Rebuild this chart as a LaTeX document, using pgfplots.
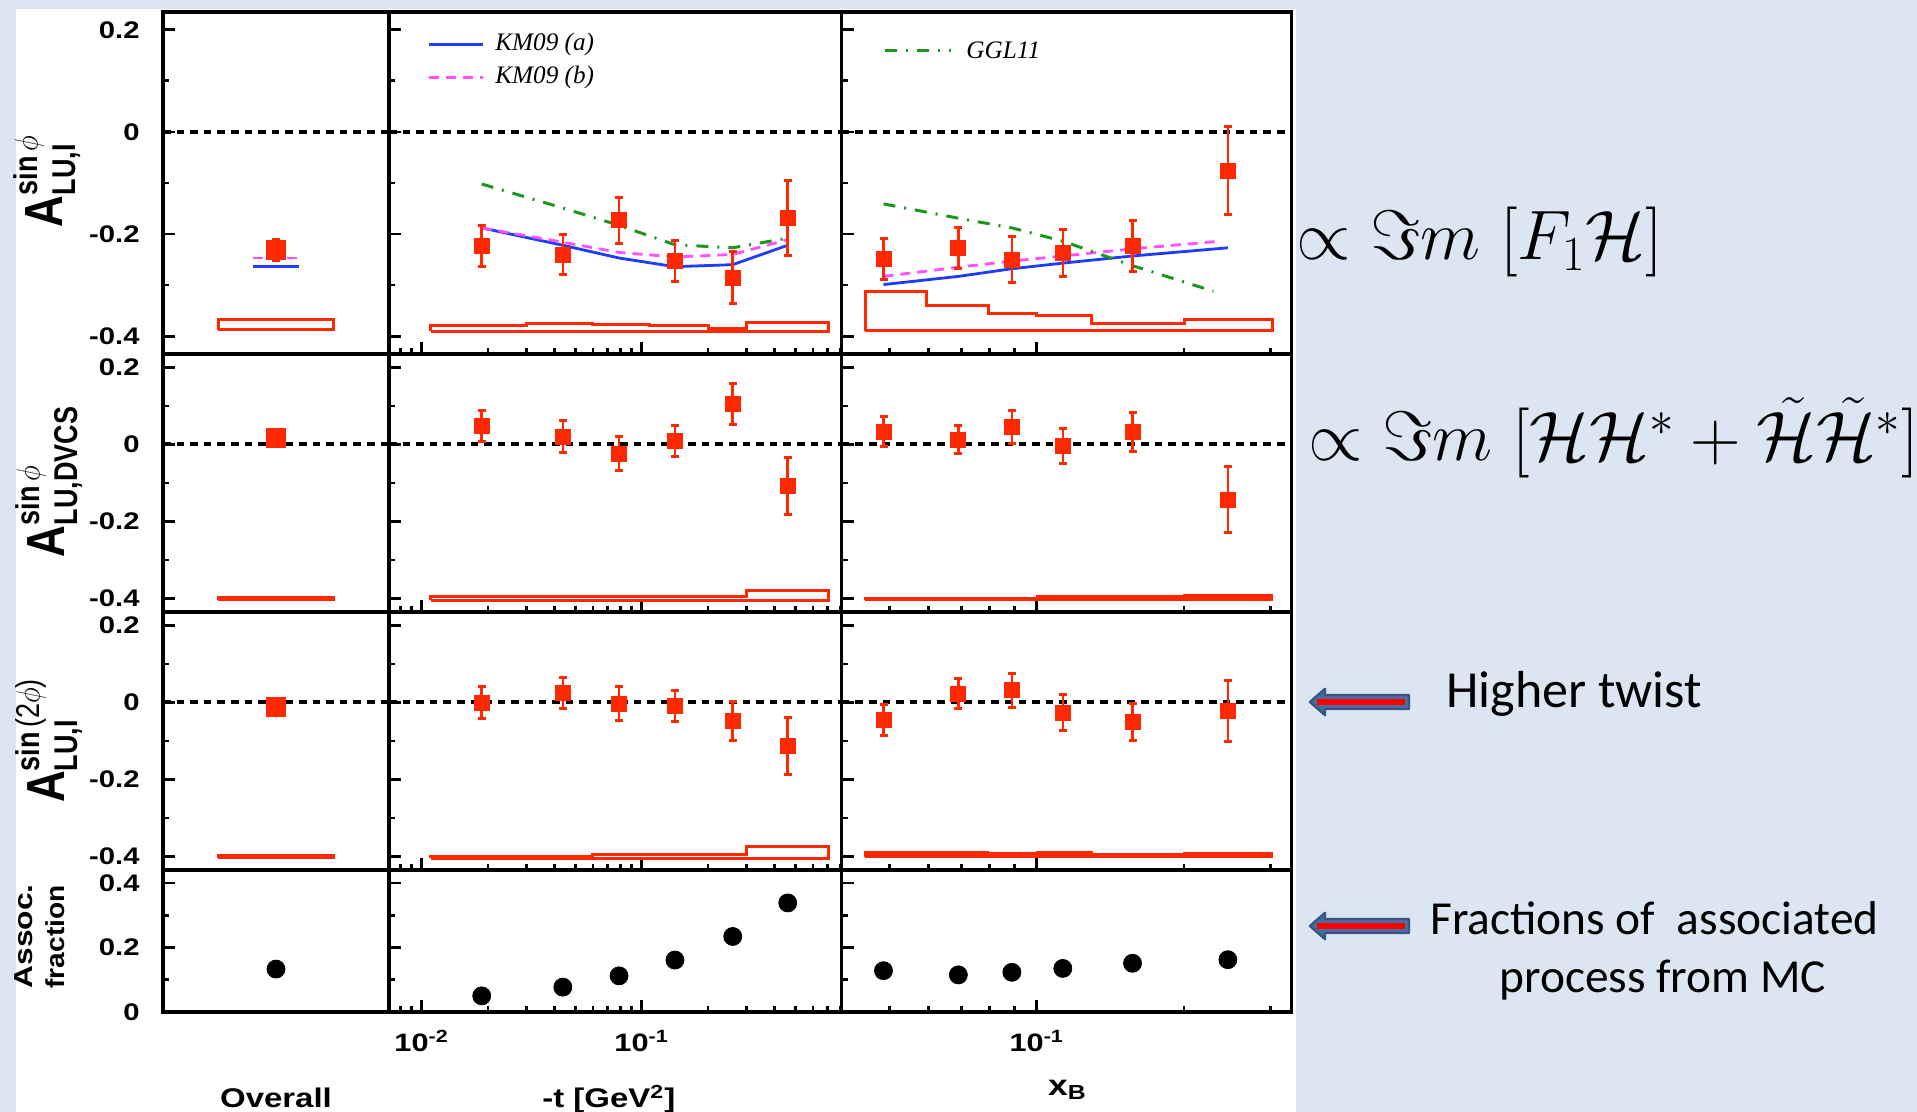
\RequirePackage{fix-cm}
\documentclass[border=0pt]{standalone}
\usepackage{amsmath}
\usepackage{graphicx}
\usepackage[no-math]{fontspec}
\setmainfont{Liberation Sans}
\newfontfamily\serif{Liberation Serif}
\newfontfamily\calfont{Carlito}
\usepackage{pgfplots}
\pgfplotsset{compat=1.18}
\definecolor{bgblue}{RGB}{220,230,242}
\definecolor{dred}{RGB}{255,40,0}
\definecolor{kmblue}{RGB}{30,60,255}
\definecolor{kmmag}{RGB}{255,80,255}
\definecolor{ggreen}{RGB}{30,150,30}
\definecolor{arrowblue}{RGB}{75,110,160}
\definecolor{arrowedge}{RGB}{55,85,135}
\newcommand{\tl}[1]{\scalebox{1.22}[1]{\bfseries\fontsize{12}{14}\selectfont #1}}
\newcommand{\xt}[1]{\scalebox{1.22}[1]{\bfseries\fontsize{12.6}{14}\selectfont 10\textsuperscript{#1}}}
\newcommand{\xl}[1]{\scalebox{1.22}[1]{\bfseries\fontsize{13.5}{16}\selectfont #1}}
\newcommand{\legtxt}[1]{{\serif\itshape\fontsize{12.6}{14}\selectfont #1}}
\newcommand{\Alab}[2]{\scalebox{1}[1.22]{\bfseries\fontsize{22}{24}\selectfont A\fontsize{13.5}{15}\selectfont\sbox0{#1}\sbox2{#2}\rlap{\raisebox{10.2pt}{\usebox0}}\raisebox{-5.3pt}{\usebox2}\ifdim\wd0>\wd2\hspace{\dimexpr\wd0-\wd2\relax}\fi}}
\pgfplotsset{
 panel/.style={scale only axis, anchor=south west,
   axis line style={line width=1.6pt},
   major tick style={black, line width=1.4pt},
   minor tick style={black, line width=1.4pt},
   major tick length=6pt, minor tick length=3pt,
   tick align=inside, xtick pos=left, ytick pos=left,
   yticklabel style={anchor=east, inner sep=0pt, xshift=-11.5pt},
   xticklabel style={anchor=north, inner sep=0pt, yshift=-9pt},
 },
 asym/.style={ymin=-0.435, ymax=0.235, ytick={-0.4,-0.2,0,0.2}, minor ytick={-0.3,-0.1,0.1}},
 fracy/.style={ymin=0, ymax=0.44, ytick={0,0.2,0.4}, minor ytick={0.1,0.3}},
 colA/.style={panel, width=113pt, xmin=0, xmax=1, xtick=\empty},
 colB/.style={panel, width=226.35pt, xmin=0.0071, xmax=0.811, xtick={0.01,0.1},
   minor xtick={0.008,0.009,0.02,0.03,0.04,0.05,0.06,0.07,0.08,0.09,0.2,0.3,0.4,0.5,0.6,0.7,0.8},
   yticklabels={}, xticklabels={}},
 colC/.style={panel, width=225pt, xmin=0.0399, xmax=0.332, xtick={0.1},
   minor xtick={0.05,0.06,0.07,0.08,0.09,0.2,0.3}, yticklabels={}, xticklabels={}},
 rowA/.style={height=171pt, asym},
 rowB/.style={height=129pt, asym},
 rowC/.style={height=129pt, asym},
 rowD/.style={height=71pt, fracy},
 datapt/.style={only marks, mark=square*, color=dred, mark size=#1,
   error bars/y dir=both, error bars/y explicit,
   error bars/error bar style={line width=1.3pt, dred},
   error bars/error mark options={rotate=90, line width=1.5pt, mark size=2pt, dred}},
 datapt/.default=3.75pt,
 fracpt/.style={only marks, mark=*, black, mark size=4.5pt},
 zeroline/.style={black, line width=2pt, dash pattern=on 3.8pt off 3pt},
 sysbox/.style={dred, line width=1.5pt, line join=miter},
 sysfill/.style={dred, fill=dred, line width=1.0pt, line join=miter},
 kma/.style={kmblue, line width=1.4pt},
 kmb/.style={kmmag, line width=1.4pt, dash pattern=on 5pt off 3.5pt},
 ggl/.style={ggreen, line width=1.5pt, dash pattern=on 6pt off 4.5pt on 1pt off 4.5pt},
}
\begin{document}
\begin{tikzpicture}
\fill[bgblue] (0,0) rectangle (958.5pt,556pt);
\fill[white] (8pt,0) rectangle (648pt,551.5pt);

% ---------------- Row 1 ----------------
\begin{axis}[colA, rowA, at={(81.5pt,379pt)},
  yticklabels={\tl{-0.4},\tl{-0.2},\tl{0},\tl{0.2}},
  ylabel={\Alab{sin\,$\phi$}{LU,I}},
  ylabel style={at={(axis description cs:-0.513,0.504)}, anchor=center}]
\addplot[zeroline] coordinates {(0,0) (1,0)};
\addplot[kma] coordinates {(0.398,-0.263) (0.602,-0.263)};
\addplot[kmb] coordinates {(0.398,-0.247) (0.602,-0.247)};
\addplot[sysbox] coordinates {(0.245,-0.388) (0.245,-0.367) (0.755,-0.367) (0.755,-0.388) (0.245,-0.388)};
\addplot[datapt=4.75pt] coordinates {(0.5,-0.231) +- (0,0.02)};
\end{axis}

\begin{semilogxaxis}[colB, rowA, at={(194.5pt,379pt)}]
\addplot[zeroline] coordinates {(0.0071,0) (0.811,0)};
\addplot[ggl] coordinates {(0.01874,-0.102) (0.0438,-0.149) (0.0789,-0.183) (0.1416,-0.221) (0.2593,-0.227) (0.4611,-0.208)};
\addplot[kma] coordinates {(0.01874,-0.188) (0.0438,-0.222) (0.0789,-0.247) (0.1416,-0.264) (0.2593,-0.260) (0.4611,-0.222)};
\addplot[kmb] coordinates {(0.01874,-0.188) (0.0438,-0.216) (0.0789,-0.236) (0.1416,-0.245) (0.2593,-0.240) (0.4611,-0.211)};
% legend samples
\addplot[kma] coordinates {(0.01079,0.1714) (0.0190,0.1714)};
\addplot[kmb] coordinates {(0.01079,0.1061) (0.0190,0.1061)};
\node[anchor=west, inner sep=0pt] at (axis cs:0.02154,0.1714) {\legtxt{KM09 (a)}};
\node[anchor=west, inner sep=0pt] at (axis cs:0.02154,0.1061) {\legtxt{KM09 (b)}};
\addplot[sysbox] coordinates {(0.011,-0.390) (0.011,-0.380) (0.030,-0.380) (0.030,-0.375) (0.0597,-0.375) (0.0597,-0.377) (0.109,-0.377) (0.109,-0.380) (0.201,-0.380) (0.201,-0.386) (0.30,-0.386) (0.30,-0.373) (0.71,-0.373) (0.71,-0.390) (0.011,-0.390)};
\addplot[datapt] table[x=x, y=y, y error=e] {
x y e
0.01874 -0.224 0.040
0.0438 -0.240 0.040
0.0789 -0.173 0.045
0.1416 -0.253 0.040
0.2593 -0.286 0.051
0.4611 -0.169 0.073
};
\end{semilogxaxis}

\begin{semilogxaxis}[colC, rowA, at={(420.85pt,379pt)}]
\addplot[zeroline] coordinates {(0.0399,0) (0.332,0)};
\addplot[kma] coordinates {(0.04857,-0.299) (0.0691,-0.283) (0.0889,-0.268) (0.1130,-0.257) (0.1569,-0.243) (0.2458,-0.227)};
\addplot[kmb] coordinates {(0.04857,-0.283) (0.0691,-0.265) (0.0889,-0.253) (0.1130,-0.243) (0.1569,-0.229) (0.237,-0.214)};
\addplot[ggl] coordinates {(0.04857,-0.141) (0.0691,-0.169) (0.0889,-0.188) (0.1130,-0.214) (0.1569,-0.262) (0.2296,-0.312)};
% legend sample
\addplot[ggl] coordinates {(0.04895,0.1603) (0.06669,0.1603)};
\node[anchor=west, inner sep=0pt] at (axis cs:0.07166,0.1603) {\legtxt{GGL11}};
\addplot[sysbox] coordinates {(0.0446,-0.389) (0.0446,-0.312) (0.0596,-0.312) (0.0596,-0.340) (0.0796,-0.340) (0.0796,-0.356) (0.1,-0.356) (0.1,-0.360) (0.1296,-0.360) (0.1296,-0.375) (0.20,-0.375) (0.20,-0.367) (0.303,-0.367) (0.303,-0.389) (0.0446,-0.389)};
\addplot[datapt] table[x=x, y=y, y error=e] {
x y e
0.04857 -0.249 0.040
0.0691 -0.227 0.040
0.0889 -0.250 0.045
0.1130 -0.237 0.046
0.1569 -0.224 0.050
0.2458 -0.076 0.086
};
\end{semilogxaxis}

% ---------------- Row 2 ----------------
\begin{axis}[colA, rowB, at={(81.5pt,250pt)},
  yticklabels={\tl{-0.4},\tl{-0.2},\tl{0},\tl{0.2}},
  ylabel={\Alab{sin\,$\phi$}{LU,DVCS}},
  ylabel style={at={(axis description cs:-0.504,0.504)}, anchor=center}]
\addplot[zeroline] coordinates {(0,0) (1,0)};
\addplot[sysfill] coordinates {(0.245,-0.404) (0.245,-0.396) (0.755,-0.396) (0.755,-0.404) (0.245,-0.404)};
\addplot[datapt=4.75pt] coordinates {(0.5,0.018) +- (0,0.005)};
\end{axis}

\begin{semilogxaxis}[colB, rowB, at={(194.5pt,250pt)}]
\addplot[zeroline] coordinates {(0.0071,0) (0.811,0)};
\addplot[sysbox] coordinates {(0.011,-0.404) (0.011,-0.394) (0.109,-0.394) (0.109,-0.396) (0.30,-0.396) (0.30,-0.379) (0.71,-0.379) (0.71,-0.404) (0.011,-0.404)};
\addplot[datapt] table[x=x, y=y, y error=e] {
x y e
0.01874 0.048 0.040
0.0438 0.020 0.042
0.0789 -0.024 0.044
0.1416 0.010 0.040
0.2593 0.105 0.053
0.4611 -0.108 0.075
};
\end{semilogxaxis}

\begin{semilogxaxis}[colC, rowB, at={(420.85pt,250pt)}]
\addplot[zeroline] coordinates {(0.0399,0) (0.332,0)};
\addplot[sysfill] coordinates {(0.0446,-0.403) (0.0446,-0.398) (0.1,-0.398) (0.1,-0.394) (0.20,-0.394) (0.20,-0.390) (0.303,-0.390) (0.303,-0.403) (0.0446,-0.403)};
\addplot[datapt] table[x=x, y=y, y error=e] {
x y e
0.04857 0.033 0.039
0.0691 0.013 0.037
0.0889 0.046 0.043
0.1130 -0.004 0.046
0.1569 0.033 0.050
0.2458 -0.143 0.085
};
\end{semilogxaxis}

% ---------------- Row 3 ----------------
\begin{axis}[colA, rowC, at={(81.5pt,121pt)},
  yticklabels={\tl{-0.4},\tl{-0.2},\tl{0},\tl{0.2}},
  ylabel={\Alab{sin\,\mdseries(2$\phi$)}{LU,I}},
  ylabel style={at={(axis description cs:-0.504,0.5)}, anchor=center}]
\addplot[zeroline] coordinates {(0,0) (1,0)};
\addplot[sysfill] coordinates {(0.245,-0.404) (0.245,-0.396) (0.755,-0.396) (0.755,-0.404) (0.245,-0.404)};
\addplot[datapt=4.75pt] coordinates {(0.5,-0.011) +- (0,0.005)};
\end{axis}

\begin{semilogxaxis}[colB, rowC, at={(194.5pt,121pt)}]
\addplot[zeroline] coordinates {(0.0071,0) (0.811,0)};
\addplot[sysbox] coordinates {(0.011,-0.404) (0.011,-0.400) (0.0597,-0.400) (0.0597,-0.395) (0.30,-0.395) (0.30,-0.375) (0.71,-0.375) (0.71,-0.404) (0.011,-0.404)};
\addplot[datapt] table[x=x, y=y, y error=e] {
x y e
0.01874 0.000 0.042
0.0438 0.024 0.040
0.0789 -0.003 0.045
0.1416 -0.009 0.040
0.2593 -0.048 0.051
0.4611 -0.113 0.074
};
\end{semilogxaxis}

\begin{semilogxaxis}[colC, rowC, at={(420.85pt,121pt)}]
\addplot[zeroline] coordinates {(0.0399,0) (0.332,0)};
\addplot[sysfill] coordinates {(0.0446,-0.402) (0.0446,-0.388) (0.0796,-0.388) (0.0796,-0.391) (0.1,-0.391) (0.1,-0.388) (0.1296,-0.388) (0.1296,-0.394) (0.20,-0.394) (0.20,-0.391) (0.303,-0.391) (0.303,-0.402) (0.0446,-0.402)};
\addplot[datapt] table[x=x, y=y, y error=e] {
x y e
0.04857 -0.045 0.040
0.0691 0.023 0.038
0.0889 0.032 0.044
0.1130 -0.026 0.046
0.1569 -0.050 0.048
0.2458 -0.022 0.080
};
\end{semilogxaxis}

% ---------------- Row 4 ----------------
\begin{axis}[colA, rowD, at={(81.5pt,50pt)},
  yticklabels={\tl{0},\tl{0.2},\tl{0.4}},
  ylabel={\bfseries\fontsize{13}{16}\selectfont\begin{tabular}{@{}l@{}}\scalebox{1.22}[1.0]{Assoc.}\\\scalebox{1.08}[1.0]{fraction}\end{tabular}},
  ylabel style={at={(axis description cs:-0.535,0.532)}, anchor=center, inner sep=0pt},
  xlabel={\xl{Overall}},
  xlabel style={at={(axis description cs:0.5,-0.676)}, anchor=base, inner sep=0pt}]
\addplot[fracpt] coordinates {(0.5,0.133)};
\end{axis}

\begin{semilogxaxis}[colB, rowD, at={(194.5pt,50pt)},
  xticklabels={\xt{-2},\xt{-1}},
  xlabel={\xl{-t [GeV\textsuperscript{2}]}},
  xlabel style={at={(axis description cs:0.338,-0.676)}, anchor=base west, inner sep=0pt}]
\addplot[fracpt] coordinates {(0.01874,0.050) (0.0438,0.077) (0.0789,0.112) (0.1416,0.161) (0.2593,0.234) (0.4611,0.338)};
\end{semilogxaxis}

\begin{semilogxaxis}[colC, rowD, at={(420.85pt,50pt)},
  xticklabels={\xt{-1}},
  xlabel={\scalebox{1.22}[1]{\bfseries\fontsize{14.5}{16}\selectfont x\textsubscript{B}}},
  xlabel style={at={(axis description cs:0.458,-0.585)}, anchor=base west, inner sep=0pt}]
\addplot[fracpt] coordinates {(0.04857,0.128) (0.0691,0.115) (0.0889,0.123) (0.1130,0.135) (0.1569,0.151) (0.2458,0.162)};
\end{semilogxaxis}

% ---------------- Annotations ----------------
\node[anchor=base west, inner sep=0pt] at (648pt,426pt)
  {\fontsize{35}{40}\selectfont $\propto \Im m\;[F_1\mathcal{H}]$};
\node[anchor=base west, inner sep=0pt] at (654pt,325.5pt)
  {\fontsize{35}{40}\selectfont $\propto \Im m\;[\mathcal{H}\mathcal{H}^* + \tilde{\mathcal{H}}\tilde{\mathcal{H}}^*]$};
\node[anchor=base west, inner sep=0pt] at (723pt,202pt)
  {\calfont\fontsize{26}{30}\selectfont Higher twist};
\node[anchor=base west, inner sep=0pt] at (715pt,88.5pt)
  {\calfont\fontsize{23.7}{28}\selectfont Fractions of\ \ associated};
\node[anchor=base west, inner sep=0pt] at (749.5pt,59.5pt)
  {\calfont\fontsize{23.7}{28}\selectfont process from MC};
\foreach \yy in {205pt,93pt}{
  \filldraw[fill=arrowblue, draw=arrowedge, line width=1.2pt, line join=round]
    (655pt,\yy) -- (662.5pt,\yy+6.6pt) -- (662.5pt,\yy+3.5pt) -- (704.5pt,\yy+3.5pt)
    -- (704.5pt,\yy-3.5pt) -- (662.5pt,\yy-3.5pt) -- (662.5pt,\yy-6.6pt) -- cycle;
  \draw[red, line width=2.6pt] (658.5pt,\yy) -- (702.5pt,\yy);
}
\pgfresetboundingbox
\useasboundingbox (0,0) rectangle (958.5pt,556pt);
\end{tikzpicture}
\end{document}
